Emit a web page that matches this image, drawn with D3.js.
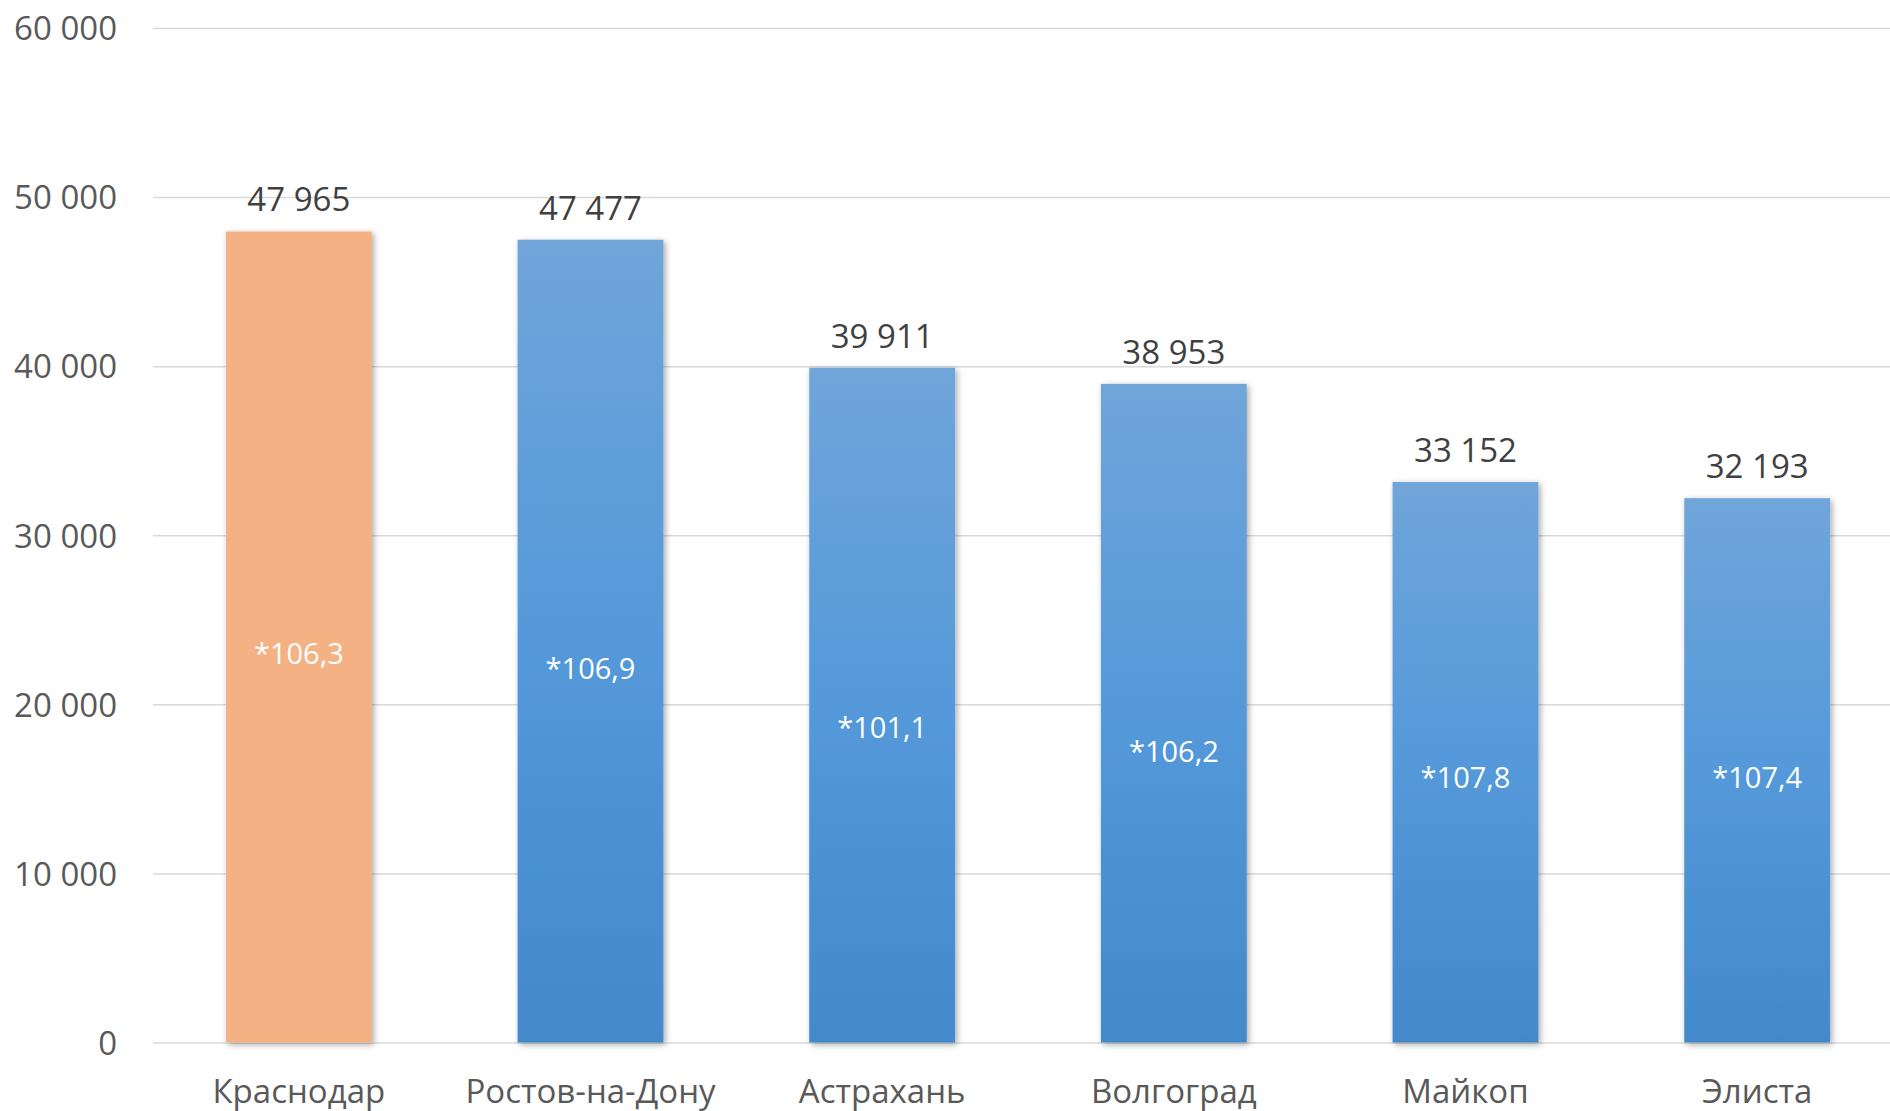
<!DOCTYPE html>
<html>
<head>
<meta charset="utf-8">
<script src="https://cdn.jsdelivr.net/npm/d3@7"></script>
<style>
    body { margin: 0; background: #fff; }
    text { font-family: "Open Sans", "Noto Sans", sans-serif; }
</style>
</head>
<body>
<div id="chart"></div>
<script>
// cities and average salary values
var cities = ['Краснодар', 'Ростов-на-Дону', 'Астрахань', 'Волгоград', 'Майкоп', 'Элиста'];
var salary = [47965, 47477, 39911, 38953, 33152, 32193];
// growth notes shown inside the bars, and the level (in value units) where each sits
var growth = ['*106,3', '*106,9', '*101,1', '*106,2', '*107,8', '*107,4'];
var growthLevel = [22990, 22100, 18640, 17220, 15680, 15680];
var yTicks = [0, 10000, 20000, 30000, 40000, 50000, 60000];

var width = 1890,
    height = 1111;

var dataset = cities.map((c, i) => ({
    city: c,
    value: salary[i],
    note: growth[i],
    level: growthLevel[i]
}));

var x = d3.scaleBand()
    .domain(cities)
    .range([153, 1903])
    .paddingInner(0.5)
    .paddingOuter(0.25);

var y = d3.scaleLinear()
    .domain([0, 60000])
    .range([1042.5, 28]);

var fmt = v => d3.format(',')(v).replace(/,/g, ' ');

var svg = d3.select('#chart')
    .append('svg')
    .attr('width', width)
    .attr('height', height);

var defs = svg.append('defs');
var grad = defs.append('linearGradient')
    .attr('id', 'blueGrad')
    .attr('x1', 0).attr('y1', 0)
    .attr('x2', 0).attr('y2', 1);
grad.append('stop').attr('offset', '0%').attr('stop-color', '#70a5da');
grad.append('stop').attr('offset', '50%').attr('stop-color', '#5499da');
grad.append('stop').attr('offset', '100%').attr('stop-color', '#4389ca');

var shadow = defs.append('filter')
    .attr('id', 'shadow')
    .attr('x', '-20%').attr('y', '-5%')
    .attr('width', '140%').attr('height', '110%');
shadow.append('feDropShadow')
    .attr('dx', 2).attr('dy', 2)
    .attr('stdDeviation', 3)
    .attr('flood-color', '#000')
    .attr('flood-opacity', 0.35);

// gridlines + y tick labels
var yAxis = d3.axisLeft(y)
    .tickValues(yTicks)
    .tickSize(-(width - 153))
    .tickPadding(36)
    .tickFormat(fmt);

svg.append('g')
    .attr('class', 'axis y')
    .attr('transform', 'translate(153,0)')
    .call(yAxis)
    .call(g => g.select('.domain').remove())
    .call(g => g.selectAll('line').attr('stroke', '#d9d9d9').attr('stroke-width', 1.5))
    .call(g => g.selectAll('text')
        .attr('fill', '#595959')
        .attr('font-size', 33)
        .attr('dy', '0.357em')
        .style('font-family', '"Open Sans", sans-serif'));

// bars
svg.append('g')
    .attr('class', 'bars')
    .selectAll('rect')
    .data(dataset)
    .enter()
    .append('rect')
    .attr('x', d => x(d.city))
    .attr('y', d => y(d.value))
    .attr('width', x.bandwidth())
    .attr('height', d => y(0) - y(d.value))
    .attr('fill', (d, i) => i === 0 ? '#f4b183' : 'url(#blueGrad)')
    .attr('filter', 'url(#shadow)');

// value labels above bars
svg.append('g')
    .selectAll('text')
    .data(dataset)
    .enter()
    .append('text')
    .attr('x', d => x(d.city) + x.bandwidth() / 2)
    .attr('y', d => y(d.value) - 20)
    .attr('text-anchor', 'middle')
    .attr('font-size', 33)
    .attr('fill', '#404040')
    .text(d => fmt(d.value));

// growth notes inside bars
svg.append('g')
    .selectAll('text')
    .data(dataset)
    .enter()
    .append('text')
    .attr('x', d => x(d.city) + x.bandwidth() / 2)
    .attr('y', d => y(d.level))
    .attr('dy', '0.357em')
    .attr('text-anchor', 'middle')
    .attr('font-size', 29)
    .attr('fill', '#ffffff')
    .text(d => d.note);

// x axis labels
var xAxis = d3.axisBottom(x)
    .tickSize(0)
    .tickPadding(0);

svg.append('g')
    .attr('class', 'axis x')
    .attr('transform', 'translate(0,1042.5)')
    .call(xAxis)
    .call(g => g.select('.domain').remove())
    .call(g => g.selectAll('text')
        .attr('y', 60)
        .attr('dy', 0)
        .attr('fill', '#595959')
        .attr('font-size', 33)
        .style('font-family', '"Open Sans", sans-serif'));
</script>
</body>
</html>
